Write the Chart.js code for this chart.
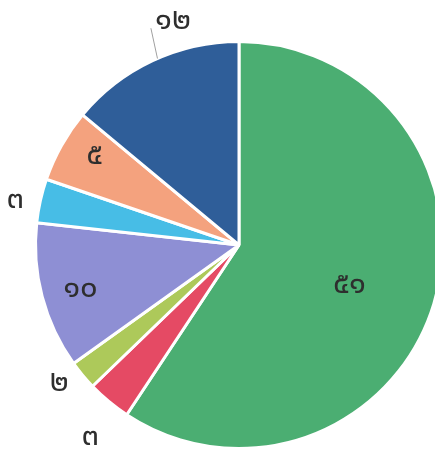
<!DOCTYPE html>
<html>
<head>
<meta charset="utf-8">
<script src="https://cdn.jsdelivr.net/npm/chart.js@4.4.0/dist/chart.umd.min.js"></script>
<style>
html,body{margin:0;padding:0;background:#fff;overflow:hidden;width:435px;height:454px;}
#wrap{position:absolute;left:0;top:0;width:445px;height:454px;}
</style>
</head>
<body>
<div id="wrap"><canvas id="c" width="445" height="454"></canvas></div>
<script>
const categories = ["A","B","C","D","E","F","G"];
const values = [51, 3, 2, 10, 3, 5, 12];
const valueLabels = ["๕๑","๓","๒","๑๐","๓","๕","๑๒"];
const colors = ["#4bae72","#e54a64","#adc95a","#8e8fd4","#47bde6","#f4a27e","#2f5e99"];
const labelRadius = [0.58, 1.20, 1.12, 0.81, 1.12, 0.83, 1.14];
const labelAngleShift = [3.9, -2.2, 1.8, -1.3, -1.6, 1.9, 8.6];
const leaderLine = [false,false,false,false,false,false,true];

const labelPlugin = {
  id:'labels',
  afterDatasetsDraw(chart){
    const ctx = chart.ctx;
    const meta = chart.getDatasetMeta(0);
    ctx.save();
    ctx.font = '31px "Noto Sans Thai", "Loma", "Garuda", "Norasi", "DejaVu Sans", sans-serif';
    ctx.fillStyle = '#2e2e2e';
    ctx.textAlign = 'center';
    ctx.textBaseline = 'middle';
    meta.data.forEach((arc, i) => {
      const p = arc.getProps(['x','y','startAngle','endAngle','outerRadius'], true);
      const mid = (p.startAngle + p.endAngle)/2;
      const a = mid + labelAngleShift[i]*Math.PI/180;
      const r = p.outerRadius*labelRadius[i];
      const x = p.x + Math.cos(a)*r, y = p.y + Math.sin(a)*r;
      if (leaderLine[i]) {
        ctx.strokeStyle = '#a0a0a0';
        ctx.lineWidth = 1;
        ctx.beginPath();
        const a1 = mid + 1.5*Math.PI/180, a2 = mid + 3.0*Math.PI/180;
        ctx.moveTo(p.x + Math.cos(a1)*p.outerRadius*1.0, p.y + Math.sin(a1)*p.outerRadius*1.0);
        ctx.lineTo(p.x + Math.cos(a2)*p.outerRadius*1.15, p.y + Math.sin(a2)*p.outerRadius*1.15);
        ctx.stroke();
      }
      ctx.fillText(valueLabels[i], x, y);
    });
    ctx.restore();
  }
};

new Chart(document.getElementById('c'), {
  type:'pie',
  data:{
    labels:categories,
    datasets:[{data:values, backgroundColor:colors, borderColor:'#ffffff', borderWidth:3}]
  },
  options:{
    responsive:false,
    animation:false,
    layout:{padding:{left:34, top:40, right:1, bottom:4}},
    plugins:{legend:{display:false}, tooltip:{enabled:false}}
  },
  plugins:[labelPlugin]
});
</script>
</body>
</html>
